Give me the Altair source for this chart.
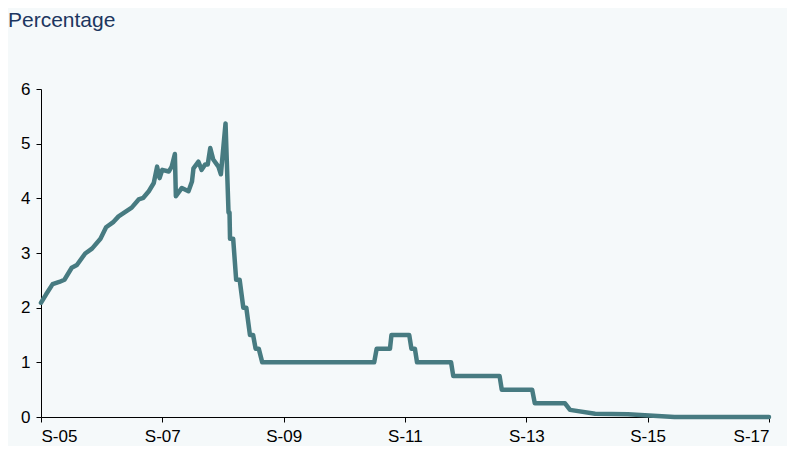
import altair as alt
import pandas as pd

title_text = "Percentage"

dates = [
    "2005-09-01", "2005-10-01", "2005-11-10", "2005-12-20", "2006-01-20", "2006-03-05",
    "2006-04-05", "2006-05-25", "2006-07-05", "2006-08-25", "2006-09-28", "2006-11-12",
    "2006-12-12", "2007-03-01", "2007-04-12", "2007-05-10", "2007-06-12", "2007-07-12",
    "2007-08-01", "2007-08-16", "2007-09-01", "2007-10-10", "2007-10-28", "2007-11-16",
    "2007-11-22", "2007-12-28", "2008-02-06", "2008-02-27", "2008-03-07", "2008-04-06",
    "2008-04-25", "2008-05-16", "2008-06-01", "2008-06-16", "2008-07-04", "2008-08-04",
    "2008-08-19", "2008-09-16", "2008-10-04", "2008-10-10", "2008-10-13", "2008-11-01",
    "2008-11-19", "2008-12-10", "2009-01-01", "2009-01-19", "2009-02-10", "2009-03-01",
    "2009-03-16", "2009-04-04", "2009-04-25",
    "2011-02-28", "2011-03-15", "2011-06-03", "2011-06-12", "2011-09-27", "2011-10-10",
    "2011-10-31", "2011-11-13", "2012-06-05", "2012-06-18", "2013-03-24", "2013-04-06",
    "2013-10-06", "2013-10-22", "2014-04-22", "2014-05-22", "2014-10-20", "2015-05-05",
    "2016-02-10", "2017-09-01",
]

values = [
    2.09, 2.24, 2.43, 2.47, 2.51, 2.73,
    2.78, 2.99, 3.08, 3.26, 3.47, 3.57,
    3.67, 3.83, 3.98, 4.01, 4.13, 4.28,
    4.58, 4.37, 4.52, 4.49, 4.58, 4.81,
    4.04, 4.19, 4.13, 4.31, 4.55, 4.67,
    4.52, 4.62, 4.62, 4.92, 4.71, 4.58,
    4.44, 5.37, 3.74, 3.74, 3.26, 3.26,
    2.51, 2.51, 2.00, 2.00, 1.50, 1.50,
    1.25, 1.25, 1.00,
    1.00, 1.25, 1.25, 1.50, 1.50, 1.25,
    1.25, 1.00, 1.00, 0.75, 0.75, 0.50,
    0.50, 0.25, 0.25, 0.13, 0.06, 0.05,
    0.00, 0.00,
]

tick_years = [2005, 2007, 2009, 2011, 2013, 2015, 2017]
y_ticks = [0, 1, 2, 3, 4, 5, 6]

df = pd.DataFrame({"date": dates, "value": values})

BG = "#F5F9FA"
LINE = "#477B81"
FONT = "Liberation Sans"

x_ticks = [alt.DateTime(year=y, month=9, date=1, utc=True) for y in tick_years]

line = alt.Chart(df).mark_line(
    color=LINE, strokeWidth=4.5, strokeJoin="round", strokeCap="round"
).encode(
    x=alt.X(
        "date:T",
        scale=alt.Scale(domain=[x_ticks[0], x_ticks[-1]]),
        axis=alt.Axis(
            values=x_ticks,
            labelExpr="'S-' + utcFormat(datum.value, '%y')",
            title=None,
            grid=False,
        ),
    ),
    y=alt.Y(
        "value:Q",
        scale=alt.Scale(domain=[0, 6], nice=False),
        axis=alt.Axis(values=y_ticks, title=None, grid=False),
    ),
)

title_layer = alt.Chart(pd.DataFrame({"t": [title_text]})).mark_text(
    align="left", baseline="alphabetic", fontSize=21, font=FONT, color="#1C3660"
).encode(text="t:N", x=alt.value(-33), y=alt.value(-62))

chart = alt.layer(line, title_layer).properties(
    width=728,
    height=328,
    autosize="none",
    padding={"left": 33, "top": 81, "right": 18, "bottom": 29},
    background=BG,
).configure_view(stroke=None).configure_axis(
    domainColor="black",
    tickColor="black",
    labelColor="black",
    labelFont=FONT,
    labelFontSize=17,
    tickSize=5,
    labelPadding=6,
    domainWidth=1,
    tickWidth=1,
)

chart.save("out.html", embed_options={"renderer": "svg", "actions": False})
